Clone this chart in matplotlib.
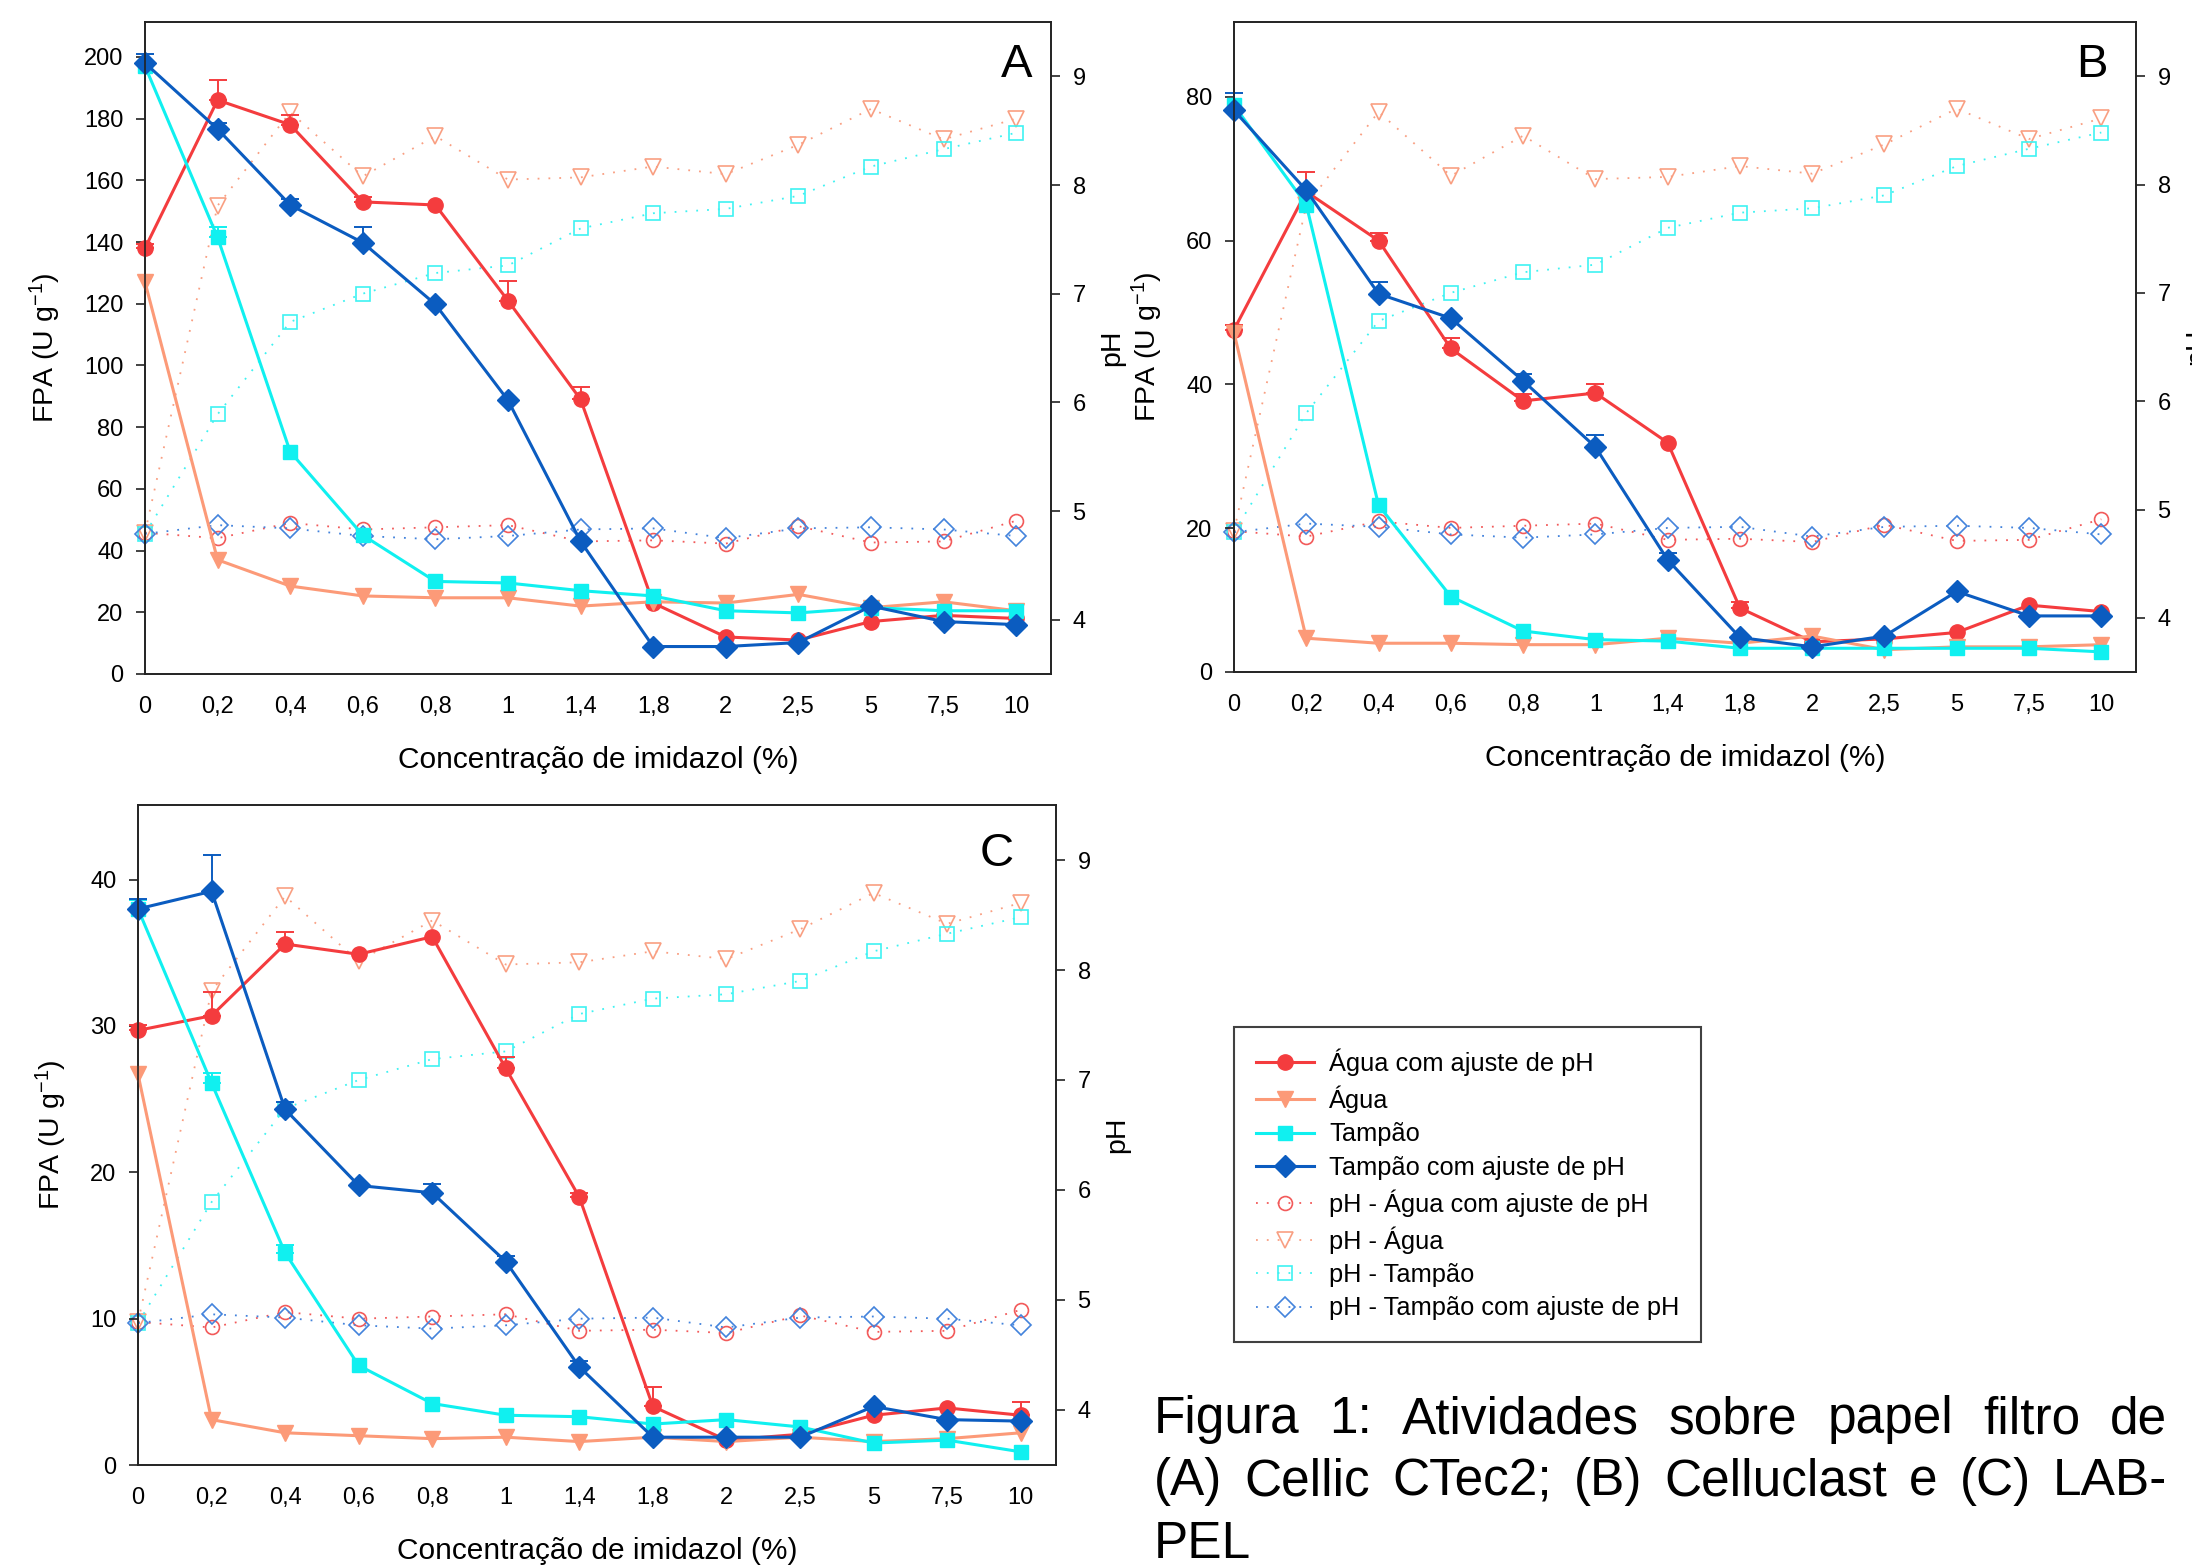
import matplotlib
matplotlib.use('Agg')
import matplotlib.pyplot as plt
from matplotlib.lines import Line2D

plt.rcParams['font.family'] = ['Liberation Sans', 'DejaVu Sans']
plt.rcParams['mathtext.fontset'] = 'custom'
plt.rcParams['mathtext.rm'] = 'Liberation Sans'
plt.rcParams['mathtext.it'] = 'Liberation Sans:italic'

# categories (imidazole %)
conc = ['0', '0,2', '0,4', '0,6', '0,8', '1', '1,4', '1,8', '2', '2,5', '5', '7,5', '10']

# pH values (same measurements in all panels)
ph_agua_aj = [4.80, 4.75, 4.89, 4.83, 4.85, 4.87, 4.72, 4.73, 4.70, 4.86, 4.71, 4.72, 4.91]
ph_agua = [4.80, 7.81, 8.67, 8.08, 8.45, 8.05, 8.07, 8.17, 8.10, 8.37, 8.70, 8.42, 8.61]
ph_tampao = [4.79, 5.89, 6.74, 7.00, 7.19, 7.26, 7.60, 7.74, 7.78, 7.90, 8.17, 8.33, 8.48]
ph_tampao_aj = [4.79, 4.87, 4.84, 4.77, 4.74, 4.77, 4.83, 4.84, 4.75, 4.84, 4.85, 4.83, 4.77]

# panel A - Cellic CTec2
a_agua_aj = [138, 186, 178, 153, 152, 121, 89, 23, 12, 11, 17, 19, 18]
a_agua_aj_err = [1.5, 6.5, 3, 1.5, 0, 6.5, 4, 0, 0, 0, 0, 0, 0]
a_agua = [127, 37, 28.5, 25.3, 24.7, 24.7, 22, 23.4, 23, 25.8, 21.5, 23.4, 20.5]
a_agua_err = [0] * 13
a_tampao = [197, 141.5, 72, 45, 30, 29.5, 27, 25.3, 20.5, 19.8, 21.5, 20.5, 20.5]
a_tampao_err = [0, 3.5, 0, 0, 0, 0, 0, 0, 0, 0, 0, 0, 0]
a_tampao_aj = [198, 176.6, 152, 139.8, 119.8, 88.7, 43, 8.9, 8.9, 10.2, 22, 17, 16]
a_tampao_aj_err = [3, 2, 2, 5, 0, 0, 0, 0, 0, 0, 0, 0, 0]

# panel B - Celluclast
b_agua_aj = [47.6, 66.8, 60, 45, 37.7, 38.8, 31.9, 8.9, 4.2, 4.6, 5.5, 9.3, 8.4]
b_agua_aj_err = [0.6, 2.8, 1.0, 1.5, 1.0, 1.2, 0, 0.8, 0, 0, 0, 0, 0]
b_agua = [47.2, 4.7, 4.0, 4.0, 3.8, 3.8, 4.7, 4.0, 5.0, 3.1, 3.5, 3.5, 3.8]
b_agua_err = [0] * 13
b_tampao = [78.8, 65, 23.2, 10.5, 5.7, 4.5, 4.3, 3.3, 3.3, 3.3, 3.3, 3.3, 2.8]
b_tampao_err = [0] * 13
b_tampao_aj = [78.1, 67, 52.6, 49.2, 40.5, 31.3, 15.6, 4.8, 3.5, 5.0, 11.2, 7.8, 7.8]
b_tampao_aj_err = [2.4, 0, 1.6, 0, 1.0, 1.6, 1.0, 0, 0, 0, 0, 0, 0]

# panel C - LAB-PEL
c_agua_aj = [29.7, 30.7, 35.6, 34.9, 36.1, 27.1, 18.3, 4.0, 1.7, 2.1, 3.4, 3.9, 3.4]
c_agua_aj_err = [0.4, 1.6, 0.8, 0, 0, 0.8, 0.3, 1.3, 0, 0, 0, 0, 0.9]
c_agua = [26.7, 3.1, 2.2, 2.0, 1.8, 1.9, 1.6, 1.9, 1.6, 1.9, 1.6, 1.8, 2.2]
c_agua_err = [0] * 13
c_tampao = [38.0, 26.1, 14.5, 6.8, 4.2, 3.4, 3.3, 2.8, 3.1, 2.6, 1.5, 1.7, 0.9]
c_tampao_err = [0.6, 0.7, 0.5, 0, 0, 0, 0, 0, 0, 0, 0, 0, 0]
c_tampao_aj = [38.0, 39.2, 24.3, 19.1, 18.6, 13.9, 6.7, 1.9, 1.9, 1.9, 4.0, 3.1, 3.0]
c_tampao_aj_err = [0.7, 2.5, 0.5, 0, 0.6, 0.4, 0.4, 0, 0, 0, 0, 0, 0]

labels = ['Água com ajuste de pH', 'Água', 'Tampão', 'Tampão com ajuste de pH',
          'pH - Água com ajuste de pH', 'pH - Água', 'pH - Tampão',
          'pH - Tampão com ajuste de pH']

colors = ['#f43c3e', '#fc9a78', '#10f0f0', '#0b5cc0']
markers = ['o', 'v', 's', 'D']
msizes = [11, 12, 10, 11]
ph_colors = ['#f25a5a', '#f99f82', '#3ef2f2', '#4383dc']
ph_markers = ['o', 'v', 's', 'D']
ph_msizes = [10, 11, 9.5, 10.5]

W, H = 2192, 1568
fig = plt.figure(figsize=(W / 100, H / 100), dpi=100)


def box(l, t, r, b):
    return [l / W, 1 - b / H, (r - l) / W, (b - t) / H]


def panel(rect, fpa, errs, ymax, yticks, letter, lpos):
    ax = fig.add_axes(rect)
    ax2 = ax.twinx()
    ax.set_zorder(ax2.get_zorder() + 1)
    ax.patch.set_visible(False)
    x = list(range(len(conc)))

    for ph, c, m, ms in zip([ph_agua_aj, ph_agua, ph_tampao, ph_tampao_aj],
                            ph_colors, ph_markers, ph_msizes):
        ax2.plot(x, ph, linestyle=(0, (1, 5)), lw=1.3, color=c, marker=m,
                 ms=ms, mfc='none', mec=c, mew=1.2, clip_on=False)

    for y, e, c, m, ms in zip(fpa, errs, colors, markers, msizes):
        xi = [i for i in x if e[i] > 0]
        if xi:
            ax.errorbar(xi, [y[i] for i in xi],
                        yerr=[[0] * len(xi), [e[i] for i in xi]],
                        fmt='none', ecolor=c, elinewidth=1.4, capsize=6.5,
                        capthick=1.4, clip_on=False)
        ax.plot(x, y, color=c, lw=2.2, marker=m, ms=ms, mfc=c, mec=c,
                clip_on=False)

    ax.set_xlim(0, 12.48)
    ax.set_ylim(0, ymax)
    ax.set_yticks(yticks)
    ax.set_xticks(x)
    ax.set_xticklabels(conc)
    ax2.set_ylim(3.5, 9.5)
    ax2.set_yticks([4, 5, 6, 7, 8, 9])

    for a in (ax, ax2):
        for s in a.spines.values():
            s.set_linewidth(1.2)
            s.set_color('#222222')
    ax.tick_params(axis='y', direction='out', length=6.5, width=1.2,
                   pad=9, labelsize=17, color='#222222')
    ax.tick_params(axis='x', length=0, pad=16, labelsize=17)
    ax2.tick_params(axis='y', direction='out', length=6.5, width=1.2,
                    pad=9, labelsize=17, color='#222222')

    ax.set_xlabel('Concentração de imidazol (%)', fontsize=21.5, labelpad=20)
    ax.set_ylabel('FPA (U g$^{\\mathregular{-1}}$)', fontsize=20.5, labelpad=15)
    ax2.set_ylabel('pH', fontsize=20.5, labelpad=10)

    ax.text(lpos[0], lpos[1], letter, transform=ax.transAxes, fontsize=34,
            ha='right', va='baseline')
    return ax


panel(box(145, 22, 1051, 674),
      [a_agua_aj, a_agua, a_tampao, a_tampao_aj],
      [a_agua_aj_err, a_agua_err, a_tampao_err, a_tampao_aj_err],
      211.3, range(0, 201, 20), 'A', (0.979, 0.916))

panel(box(1234, 22, 2136, 672),
      [b_agua_aj, b_agua, b_tampao, b_tampao_aj],
      [b_agua_aj_err, b_agua_err, b_tampao_err, b_tampao_aj_err],
      90.4, range(0, 81, 20), 'B', (0.969, 0.915))

panel(box(138, 805, 1056, 1465),
      [c_agua_aj, c_agua, c_tampao, c_tampao_aj],
      [c_agua_aj_err, c_agua_err, c_tampao_err, c_tampao_aj_err],
      45.1, range(0, 41, 10), 'C', (0.954, 0.907))

# legend
handles = []
for c, m, ms in zip(colors, markers, msizes):
    handles.append(Line2D([], [], color=c, lw=2.2, marker=m, ms=ms, mfc=c, mec=c))
for c, m, ms in zip(ph_colors, ph_markers, ph_msizes):
    handles.append(Line2D([], [], color=c, lw=1.3, linestyle=(0, (1, 5)),
                          marker=m, ms=ms, mfc='none', mec=c, mew=1.2))
leg = fig.legend(handles, labels, loc='upper left',
                 bbox_to_anchor=(1234 / W, 1 - 1027 / H), borderaxespad=0,
                 fontsize=18.3, frameon=True, fancybox=False, edgecolor='#111111',
                 handlelength=2.3, handletextpad=0.6, labelspacing=0.37,
                 borderpad=0.85)
leg.get_frame().set_linewidth(1.5)

# caption, justified
cap_lines = [['Figura', '1:', 'Atividades', 'sobre', 'papel', 'filtro', 'de'],
             ['(A)', 'Cellic', 'CTec2;', '(B)', 'Celluclast', 'e', '(C)', 'LAB-'],
             ['PEL']]
cap_left, cap_right = 1154, 2167
cap_base = [1433, 1495, 1558]

renderer = fig.canvas.get_renderer()
for words, yb in zip(cap_lines, cap_base):
    texts = [fig.text(0, 1 - yb / H, w, fontsize=37, ha='left', va='baseline')
             for w in words]
    widths = [t.get_window_extent(renderer).width for t in texts]
    if len(words) > 1:
        gap = (cap_right - cap_left - sum(widths)) / (len(words) - 1)
    else:
        gap = 0
    xpos = cap_left
    for t, wd in zip(texts, widths):
        t.set_x(xpos / W)
        xpos += wd + gap

fig.savefig('out.png', dpi=100)
